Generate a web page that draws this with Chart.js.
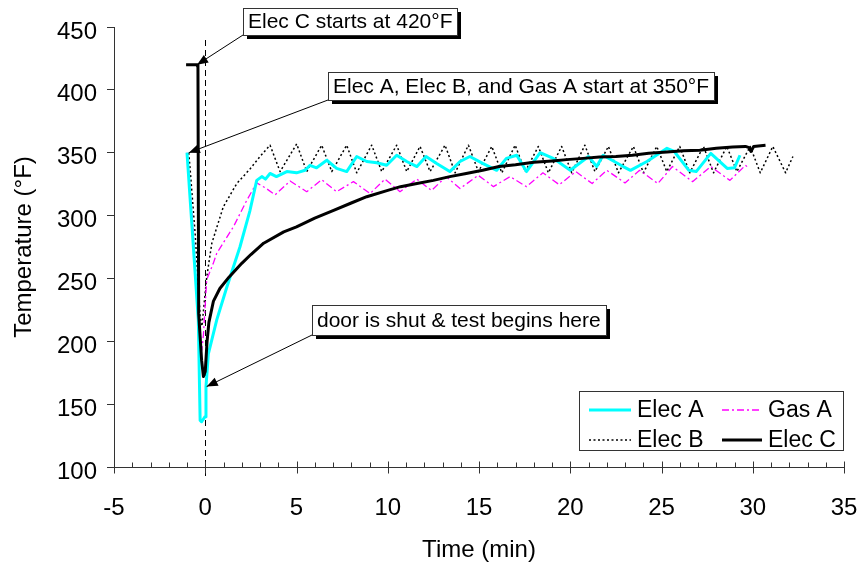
<!DOCTYPE html>
<html>
<head>
<meta charset="utf-8">
<script src="https://cdn.jsdelivr.net/npm/chart.js@4/dist/chart.umd.min.js"></script>
<style>
  html, body { margin: 0; padding: 0; background: #fff; }
  #wrap { width: 868px; height: 571px; }
</style>
</head>
<body>
<div id="wrap"><canvas id="c" width="868" height="571"></canvas></div>
<script>
// Oven temperature recovery after the door is shut (time in minutes, 0 = door shut)
const xTicks = [-5, 0, 5, 10, 15, 20, 25, 30, 35];
const yTicks = [100, 150, 200, 250, 300, 350, 400, 450];
const seriesNames = ['Elec A', 'Gas A', 'Elec B', 'Elec C'];
const doorShutTime = 0;

const elecATime = [-1.0, -0.38, -0.28, -0.2, -0.01, 0.04, 0.17, 0.63, 1.18, 1.9, 2.45, 2.82, 3.1, 3.3, 3.55, 3.9,
  4.47, 5.0, 5.47, 5.74, 6.1, 6.66, 7.2, 7.75, 8.3, 8.85, 9.4, 9.94, 10.49, 11.04, 11.6, 12.1, 12.68, 13.4,
  13.96, 14.5, 15.2, 15.97, 16.5, 17.07, 17.6, 18.35, 19.07, 20.0, 21.0, 21.45, 21.8, 22.9, 23.3, 24.2, 25.3,
  25.7, 26.5, 26.9, 27.7, 28.6, 29.0, 29.3];
const elecATemp = [350, 217, 137, 136, 140, 164, 190, 217, 243, 275, 304, 328, 331, 329, 333.5, 331,
  335, 334, 336, 340, 338, 344, 337.5, 335, 347, 343, 342, 340, 348, 343, 339, 347, 341.5, 335,
  343, 347, 341.5, 336, 345.5, 348, 335, 350, 345.5, 336, 347, 339, 348, 339, 336, 343, 353.5,
  351, 336, 335, 349.5, 337.5, 338, 348];

const gasATime = [-1.0, -0.65, -0.47, -0.19, -0.1, 0.08, 0.44, 0.63, 1.54, 2.27, 2.82, 3.3, 3.83, 4.65, 5.56,
  6.38, 7.2, 8.12, 9.03, 9.85, 10.67, 11.59, 12.4, 13.2, 13.96, 14.96, 15.79, 16.7, 17.6, 18.5, 19.4, 20.3,
  21.2, 22.0, 23.0, 23.8, 24.8, 25.6, 26.7, 27.7, 28.75, 29.6, 29.8];
const gasATemp = [350, 288, 235, 193, 205, 249, 262, 270, 291, 312, 326, 322, 316.5, 327.5, 319,
  328.5, 319, 327, 317.5, 329, 319, 329, 320, 331, 321.5, 332, 323, 331, 323, 334, 324.5, 335,
  325.5, 336, 326, 336, 325.5, 339, 327, 339, 328, 340, 337.5];

const elecBTime = [-0.9, -0.55, -0.28, -0.18, 0.08, 0.36, 0.99, 1.73, 2.45, 3.0, 3.55, 4.1, 5.01, 5.56, 6.38,
  6.93, 7.75, 8.3, 9.12, 9.67, 10.49, 11.04, 11.77, 12.32, 13.14, 13.69, 14.42, 14.97, 15.7, 16.25, 16.98,
  17.53, 18.25, 18.8, 19.53, 20.08, 20.8, 21.35, 22.09, 22.64, 23.46, 24.01, 24.74, 25.29, 26.0, 26.55,
  27.3, 27.85, 28.58, 29.13, 29.86, 30.41, 31.1, 31.8, 32.2];
const elecBTemp = [350, 285, 220, 212, 251, 278, 307, 325.5, 337, 347, 356, 335, 357, 335, 356,
  335, 356, 334, 356, 335, 356, 335, 355, 335, 356, 334, 356, 335, 355, 334, 356,
  335, 355, 334, 355, 334, 356, 335, 355, 334, 355, 334, 355, 335, 355, 334,
  355, 334, 355, 335, 355, 334, 355, 334, 347];

const elecCTime = [-1.05, -0.45, -0.4, -0.36, -0.2, -0.1, 0.0, 0.1, 0.2, 0.45, 0.8, 1.3, 2.0, 2.5, 3.2, 4.3,
  5.0, 6.0, 7.0, 8.0, 8.85, 10.0, 10.7, 11.6, 12.5, 13.4, 14.3, 15.2, 16.1, 17.0, 18.0, 19.0, 19.8, 20.7,
  21.6, 22.5, 23.4, 24.3, 25.3, 26.2, 27.1, 28.0, 28.9, 29.6, 29.8, 29.9, 30.05, 30.7];
const elecCTemp = [420, 420, 418, 222, 185, 172, 176, 200, 215, 232, 242, 251, 262, 269, 278, 287,
  291, 298, 304, 310, 315, 320, 323, 325.5, 328, 331, 333.5, 336, 339, 340.5, 342.5, 343.5, 344.5, 345.5,
  346.5, 347, 348, 349.5, 350.5, 351.5, 352, 353.5, 354.5, 355, 354, 351, 355, 356];

const callouts = [
  { text: 'Elec C starts at 420°F', t: -0.45, temp: 420 },
  { text: 'Elec A, Elec B, and Gas A start at 350°F', t: -0.9, temp: 350 },
  { text: 'door is shut & test begins here', t: 0.08, temp: 164 }
];

// ---- drawing ----
const FONT = '"Liberation Sans", Arial, Helvetica, sans-serif';
const AXIS_COLOR = '#333333';
// top-left corners and heights of the callout boxes (widths follow the text)
const calloutBoxes = [
  { x: 243, y: 8, h: 27 },
  { x: 328, y: 72, h: 28 },
  { x: 312, y: 305, h: 30 }
];

function pts(xs, ys) { return xs.map((v, i) => ({ x: v, y: ys[i] })); }

const styles = [
  { color: '#00FFFF', width: 3, dash: [], order: 1 },
  { color: '#FF00FF', width: 1.3, dash: [7, 3, 2, 3], order: 2 },
  { color: '#000000', width: 1.5, dash: [2, 2.5], order: 3 },
  { color: '#000000', width: 3, dash: [], order: 0 }
];
const series = [
  pts(elecATime, elecATemp),
  pts(gasATime, gasATemp),
  pts(elecBTime, elecBTemp),
  pts(elecCTime, elecCTemp)
];

const datasets = series.map((d, i) => ({
  label: seriesNames[i],
  data: d,
  borderColor: styles[i].color,
  borderWidth: styles[i].width,
  borderDash: styles[i].dash,
  order: styles[i].order,
  pointRadius: 0,
  tension: 0,
  fill: false,
  borderJoinStyle: 'round'
}));

const doorLine = {
  id: 'doorLine',
  beforeDatasetsDraw(chart) {
    const { ctx, scales: { x } } = chart;
    const px = Math.round(x.getPixelForValue(doorShutTime)) + 0.5;
    ctx.save();
    ctx.strokeStyle = '#000';
    ctx.lineWidth = 1;
    ctx.setLineDash([6, 4]);
    ctx.beginPath();
    ctx.moveTo(px, 40);
    ctx.lineTo(px, 476);
    ctx.stroke();
    ctx.restore();
  }
};

const xAxisMarks = {
  id: 'xAxisMarks',
  afterDraw(chart) {
    const { ctx, scales: { x }, chartArea } = chart;
    const y0 = Math.round(chartArea.bottom) + 0.5;
    ctx.save();
    ctx.strokeStyle = AXIS_COLOR;
    ctx.lineWidth = 1;
    ctx.beginPath();
    for (let v = x.min; v <= x.max + 1e-9; v += 1) {
      const px = Math.round(x.getPixelForValue(v)) + 0.5;
      const major = xTicks.includes(v);
      ctx.moveTo(px, y0 - (major ? 6 : 5));
      ctx.lineTo(px, y0 + (major ? 6 : 0));
    }
    ctx.stroke();
    ctx.restore();
  }
};

const calloutPlugin = {
  id: 'callouts',
  afterDatasetsDraw(chart) {
    const { ctx, scales: { x, y } } = chart;
    ctx.save();
    ctx.font = '21px ' + FONT;
    callouts.forEach((c, i) => {
      const b = calloutBoxes[i];
      const w = Math.round(ctx.measureText(c.text).width) + 10;
      const tx = x.getPixelForValue(c.t);
      const ty = y.getPixelForValue(c.temp);
      const sx = b.x, sy = b.y + b.h;
      // leader line
      ctx.strokeStyle = '#000';
      ctx.lineWidth = 1;
      ctx.beginPath();
      ctx.moveTo(sx, sy);
      ctx.lineTo(tx, ty);
      ctx.stroke();
      // arrow head
      const ang = Math.atan2(ty - sy, tx - sx);
      const L = 11, W = 4.5;
      ctx.fillStyle = '#000';
      ctx.beginPath();
      ctx.moveTo(tx, ty);
      ctx.lineTo(tx - L * Math.cos(ang) + W * Math.sin(ang), ty - L * Math.sin(ang) - W * Math.cos(ang));
      ctx.lineTo(tx - L * Math.cos(ang) - W * Math.sin(ang), ty - L * Math.sin(ang) + W * Math.cos(ang));
      ctx.closePath();
      ctx.fill();
      // shadow + box
      ctx.fillStyle = '#000';
      ctx.fillRect(b.x + 4, b.y + 4, w, b.h);
      ctx.fillStyle = '#fff';
      ctx.fillRect(b.x, b.y, w, b.h);
      ctx.strokeStyle = AXIS_COLOR;
      ctx.strokeRect(b.x + 0.5, b.y + 0.5, w, b.h);
      ctx.fillStyle = '#000';
      ctx.textBaseline = 'middle';
      ctx.textAlign = 'left';
      ctx.fillText(c.text, b.x + 5, b.y + b.h / 2 + 1);
    });
    ctx.restore();
  }
};

const legendBox = {
  id: 'legendBox',
  afterDraw(chart) {
    const { ctx } = chart;
    const box = { x: 579.5, y: 391.5, w: 264, h: 59 };
    const colLine = [589, 722], colLen = [42, 40], colText = [637, 768];
    const rowY = [410, 440];
    ctx.save();
    ctx.fillStyle = '#fff';
    ctx.fillRect(box.x, box.y, box.w, box.h);
    ctx.strokeStyle = AXIS_COLOR;
    ctx.lineWidth = 1;
    ctx.strokeRect(box.x, box.y, box.w, box.h);
    chart.data.datasets.forEach((ds, i) => {
      const col = i % 2, row = Math.floor(i / 2);
      const ly = rowY[row];
      ctx.strokeStyle = ds.borderColor;
      ctx.lineWidth = ds.borderWidth;
      ctx.setLineDash(ds.borderDash);
      ctx.beginPath();
      ctx.moveTo(colLine[col], ly);
      ctx.lineTo(colLine[col] + colLen[col], ly);
      ctx.stroke();
      ctx.setLineDash([]);
      ctx.fillStyle = '#000';
      ctx.font = '23px ' + FONT;
      ctx.textBaseline = 'middle';
      ctx.textAlign = 'left';
      ctx.fillText(ds.label, colText[col], ly + 1);
    });
    ctx.restore();
  }
};

new Chart(document.getElementById('c').getContext('2d'), {
  type: 'line',
  data: { datasets },
  plugins: [doorLine, xAxisMarks, calloutPlugin, legendBox],
  options: {
    responsive: false,
    animation: false,
    devicePixelRatio: 1,
    layout: { padding: { top: 27, right: 24, left: 0, bottom: 0 } },
    plugins: { legend: { display: false }, tooltip: { enabled: false } },
    scales: {
      x: {
        type: 'linear',
        min: -5,
        max: 35,
        afterBuildTicks: s => { s.ticks = xTicks.map(v => ({ value: v })); },
        afterFit: s => { s.height = 104; },
        ticks: {
          color: '#000',
          font: { family: FONT, size: 24 },
          padding: 4,
          maxRotation: 0,
          autoSkip: false
        },
        grid: { drawOnChartArea: false, drawTicks: true, tickLength: 23, tickColor: 'rgba(0,0,0,0)' },
        border: { display: true, color: AXIS_COLOR, width: 1 },
        title: {
          display: true,
          text: 'Time (min)',
          color: '#000',
          font: { family: FONT, size: 24 },
          padding: { top: 0, bottom: 6 }
        }
      },
      y: {
        type: 'linear',
        min: 100,
        max: 450,
        afterBuildTicks: s => { s.ticks = yTicks.map(v => ({ value: v })); },
        afterFit: s => { s.width = 114; },
        ticks: {
          color: '#000',
          font: { family: FONT, size: 24 },
          padding: 10,
          labelOffset: 5,
          autoSkip: false
        },
        grid: { drawOnChartArea: false, drawTicks: true, tickLength: 7, color: AXIS_COLOR },
        border: { display: true, color: AXIS_COLOR, width: 1 },
        title: {
          display: true,
          text: 'Temperature (°F)',
          color: '#000',
          font: { family: FONT, size: 24 },
          padding: { top: 10, bottom: 0 }
        }
      }
    }
  }
});
</script>
</body>
</html>
